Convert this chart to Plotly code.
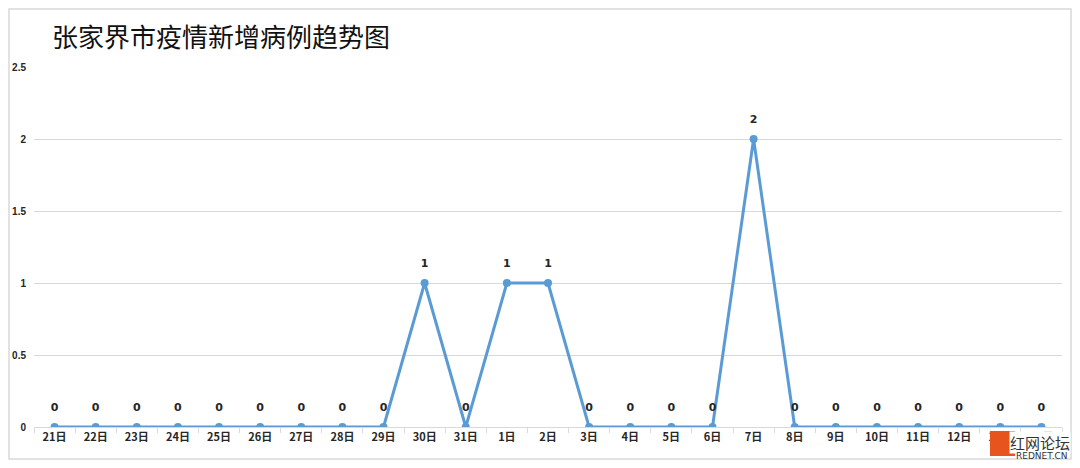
import plotly.graph_objects as go

days = ['21日', '22日', '23日', '24日', '25日', '26日', '27日', '28日', '29日', '30日',
        '31日', '1日', '2日', '3日', '4日', '5日', '6日', '7日', '8日', '9日',
        '10日', '11日', '12日', '13日', '14日']
new_cases = [0, 0, 0, 0, 0, 0, 0, 0, 0, 1,
             0, 1, 1, 0, 0, 0, 0, 2, 0, 0,
             0, 0, 0, 0, 0]

# page body has an 8px margin, so the figure is made smaller and shifted
OFF = 8
W, H = 1080 - 2 * OFF, 468 - 2 * OFF
L, R, T, B = 34 - OFF, 18 - OFF, 67 - OFF, 41 - OFF
pw, ph = W - L - R, H - T - B


def px(x):
    return (x - OFF - L) / pw


def py(y):
    return (H - B - (y - OFF)) / ph


fig = go.Figure()

fig.add_trace(go.Scatter(
    x=days, y=new_cases, mode='lines+markers',
    line=dict(color='#5b9bd5', width=3),
    marker=dict(color='#5b9bd5', size=8),
    showlegend=False, hoverinfo='skip'))

# data labels (invisible bigger marker to push the text up)
fig.add_trace(go.Scatter(
    x=days, y=new_cases, mode='markers+text',
    marker=dict(size=20, opacity=0),
    text=[str(v) for v in new_cases], textposition='top center',
    textfont=dict(family='DejaVu Sans', size=11, color='#262626', weight='bold'),
    cliponaxis=False, showlegend=False))

fig.update_layout(
    width=W, height=H,
    margin=dict(l=L, r=R, t=T, b=B, autoexpand=False),
    plot_bgcolor='white', paper_bgcolor='white',
    title=dict(text='张家界市疫情新增病例趋势图', x=(52 - OFF) / W, xanchor='left',
               y=1 - (38 - OFF) / H, yanchor='middle',
               font=dict(family='Noto Sans CJK SC', size=26, color='#111111')),
    xaxis=dict(type='category', tickson='boundaries', ticks='outside', ticklen=5,
               tickcolor='#d9d9d9', showline=True, linecolor='#d9d9d9', linewidth=1,
               showgrid=False, range=[-0.5, len(days) - 0.5], automargin=False,
               tickfont=dict(family='Noto Sans CJK SC', size=11, color='#262626',
                             weight='bold')),
    yaxis=dict(range=[0, 2.5], dtick=0.5, tickformat='~g', showgrid=True,
               gridcolor='#d9d9d9', gridwidth=1, zeroline=False, automargin=False,
               ticks='', ticklabelstandoff=7,
               tickfont=dict(family='Liberation Sans', size=10, color='#262626',
                             weight='bold')),
    shapes=[
        dict(type='rect', xref='paper', yref='paper',
             x0=px(OFF + 1), x1=px(1072 - 1), y0=py(460 - 1), y1=py(OFF + 1),
             line=dict(color='#d9d9d9', width=1.5)),
        # watermark logo
        dict(type='rect', xref='paper', yref='paper',
             x0=px(990), x1=px(1015), y0=py(456), y1=py(431),
             fillcolor='#e8541e', line=dict(width=0)),
    ],
    annotations=[
        dict(text='红网论坛', xref='paper', yref='paper',
             x=px(1071), y=py(442), xanchor='right', yanchor='middle',
             showarrow=False, bgcolor='white', borderpad=0,
             font=dict(family='Noto Sans CJK SC', size=15, color='#333333')),
        dict(text='REDNET.CN', xref='paper', yref='paper',
             x=px(1070), y=py(456), xanchor='right', yanchor='middle',
             showarrow=False,
             font=dict(family='DejaVu Sans', size=9, color='#333333')),
    ])

fig.write_html('out.html')
